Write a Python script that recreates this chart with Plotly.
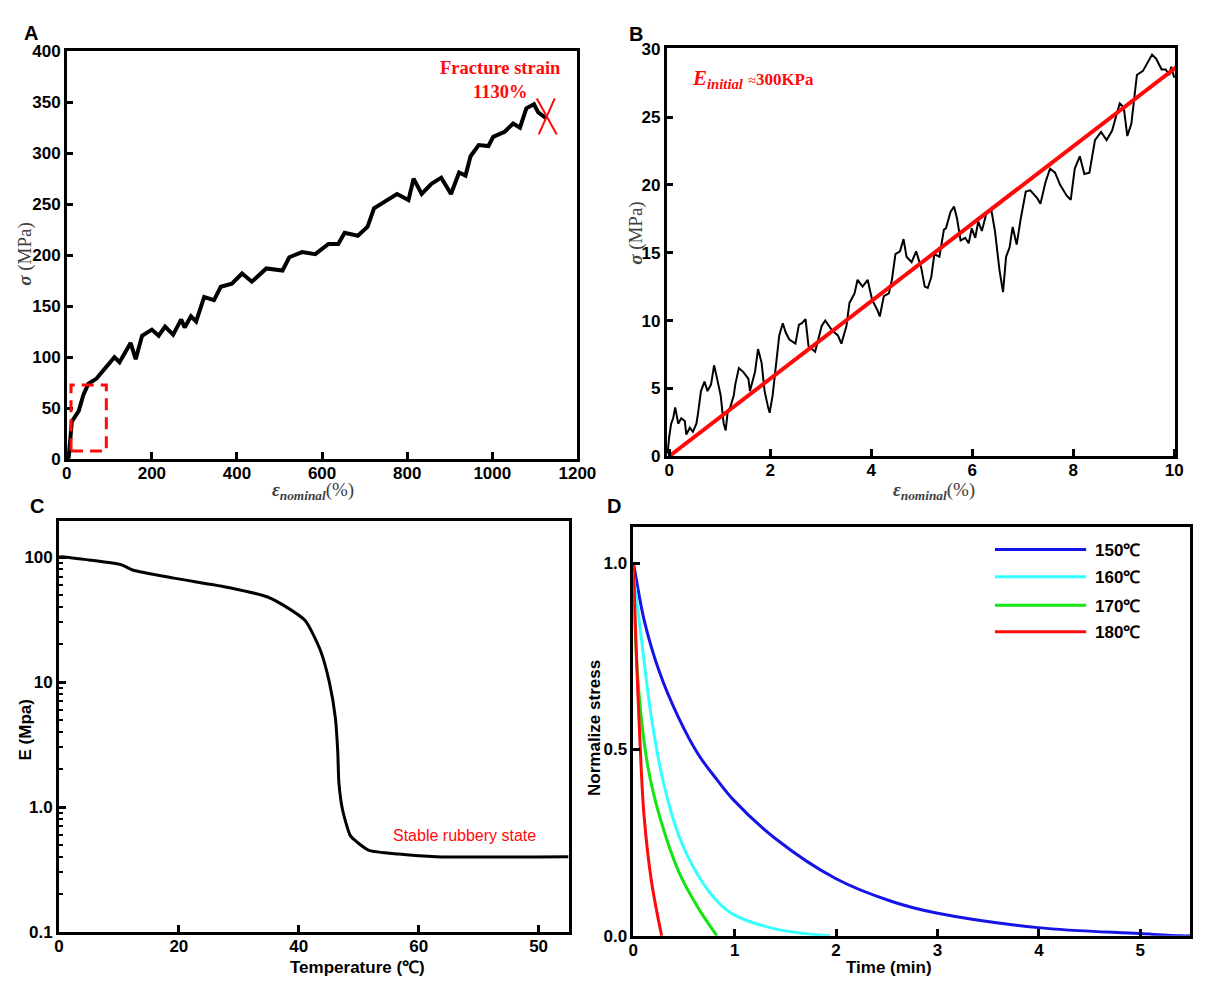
"""Four panel figure: tensile curve, initial modulus, DMA and stress relaxation."""
import plotly.graph_objects as go
from plotly.subplots import make_subplots

# ---- Panel A: full tensile curve ----
A_STRAIN = [0, 4.6, 12, 28, 39, 51, 70, 85, 93, 112, 124, 150, 162, 177, 200, 216, 231, 250,
            269, 277, 292, 304, 323, 346, 362, 388, 412, 435, 469, 507, 523, 553, 584, 615,
            638, 653, 684, 707, 722, 745, 776, 803, 815, 834, 857, 880, 903, 922, 937, 949,
            968, 991, 1002, 1029, 1049, 1065, 1080, 1098, 1108, 1127]
A_STRESS = [0, 2, 37, 47, 63, 74, 79, 86, 90, 100, 95, 114, 98, 121, 127, 121, 130, 122,
            137, 129, 140, 135, 159, 156, 169, 172, 182, 174, 187, 185, 198, 203, 201, 211,
            211, 222, 219, 228, 246, 252, 260, 254, 275, 260, 270, 276, 260, 281, 278, 297,
            308, 307, 316, 321, 329, 325, 344, 348, 340, 334]
FRACTURE_STRAIN = 1128
FRACTURE_STRESS = 336
ZOOM_BOX_STRAIN = [10, 93]
ZOOM_BOX_STRESS = [8, 72.8]

# ---- Panel B: initial region ----
B_STRAIN = [-0.03, 0, 0.04, 0.08, 0.12, 0.18, 0.24, 0.31, 0.34, 0.41, 0.47, 0.54, 0.57, 0.63,
            0.70, 0.76, 0.83, 0.89, 0.95, 1.02, 1.08, 1.12, 1.16, 1.21, 1.28, 1.31, 1.38, 1.47,
            1.57, 1.60, 1.70, 1.76, 1.83, 1.89, 1.96, 1.99, 2.05, 2.12, 2.18, 2.25, 2.31, 2.38,
            2.50, 2.57, 2.63, 2.70, 2.76, 2.89, 3.02, 3.09, 3.22, 3.34, 3.41, 3.51, 3.57, 3.67,
            3.73, 3.83, 3.93, 4.02, 4.12, 4.17, 4.25, 4.35, 4.41, 4.48, 4.57, 4.64, 4.70, 4.80,
            4.89, 4.99, 5.06, 5.12, 5.19, 5.25, 5.35, 5.44, 5.48, 5.57, 5.64, 5.70, 5.77, 5.86,
            5.93, 5.99, 6.06, 6.12, 6.19, 6.28, 6.38, 6.45, 6.54, 6.61, 6.67, 6.74, 6.80, 6.88,
            6.96, 7.06, 7.15, 7.29, 7.35, 7.45, 7.54, 7.64, 7.74, 7.87, 7.95, 8.03, 8.13, 8.22,
            8.32, 8.43, 8.55, 8.66, 8.77, 8.85, 8.92, 9.00, 9.07, 9.15, 9.19, 9.26, 9.38, 9.49,
            9.56, 9.64, 9.75, 9.83, 9.90, 9.94, 10.0]
B_STRESS = [0.2, 1.4, 2.4, 2.8, 3.6, 2.4, 2.8, 2.6, 1.6, 2.1, 1.8, 2.4, 3.1, 4.8,
            5.5, 4.8, 5.3, 6.7, 5.7, 4.5, 2.4, 1.9, 3.3, 3.6, 4.5, 5.3, 6.5, 6.2,
            5.7, 4.8, 6.2, 7.9, 6.9, 4.8, 3.6, 3.2, 4.5, 6.7, 8.9, 9.8, 9.1, 8.6,
            8.3, 9.7, 9.8, 10.1, 8.1, 7.7, 9.6, 10.0, 9.3, 8.9, 8.3, 9.6, 11.3, 12.0,
            13.0, 12.5, 13.0, 11.5, 10.8, 10.3, 11.8, 12.0, 13.0, 14.9, 15.1, 16.0, 14.7, 14.3,
            15.1, 13.9, 12.5, 12.4, 13.2, 14.9, 14.7, 16.7, 16.8, 18.0, 18.4, 17.5, 15.9, 16.1,
            15.7, 16.8, 16.1, 17.3, 16.6, 17.9, 18.1, 16.6, 13.7, 12.1, 14.7, 15.4, 16.9, 15.6,
            17.5, 19.5, 19.6, 19.0, 18.6, 20.2, 21.2, 20.9, 20.0, 19.2, 18.9, 21.2, 22.1, 20.8,
            20.9, 23.3, 23.9, 23.3, 24.0, 25.1, 26.0, 25.7, 23.6, 24.5, 26.0, 28.1, 28.4, 29.1,
            29.6, 29.3, 28.5, 28.5, 28.1, 28.7, 27.9]
B_FIT_STRAIN = [0, 10.05]
B_FIT_STRESS = [0, 28.7]

# ---- Panel C: modulus vs temperature ----
C_TEMP = [0, 0.4, 5, 10.4, 12.3, 19.2, 28.5, 34.8, 37.9, 41.1, 43.6, 45.1, 46.1, 46.5, 46.7,
          47.3, 48.6, 49.8, 51.7, 56.7, 62.9, 85]
C_MODULUS = [100, 101, 95, 87, 79, 68, 57, 48, 40, 31, 18, 10, 5.2, 2.8, 1.55,
             0.95, 0.59, 0.52, 0.45, 0.42, 0.40, 0.40]
C_X_TICKVALS = [0, 20, 40, 60, 80]
C_X_TICKTEXT = ["0", "20", "40", "60", "50"]
C_Y_TICKVALS = [0.1, 1, 10, 100]
C_Y_TICKTEXT = ["0.1", "1.0", "10", "100"]

# ---- Panel D: stress relaxation ----
D_LABELS = ["150℃", "160℃", "170℃", "180℃"]
D_COLORS = ["#1414e6", "#33ffff", "#14e614", "#ff0a0a"]
D_TIME_150 = [0, 0.01, 0.107, 0.26, 0.45, 0.64, 0.83, 0.99, 1.41, 2.0, 2.55, 2.99, 3.99, 4.99, 5.40, 5.49]
D_STRESS_150 = [1.0, 0.987, 0.847, 0.706, 0.583, 0.487, 0.417, 0.364, 0.259, 0.153, 0.092, 0.061, 0.022, 0.006, 0.0, 0.0]
D_TIME_160 = [0, 0.07, 0.18, 0.30, 0.45, 0.64, 0.83, 0.99, 1.41, 1.94]
D_STRESS_160 = [0.97, 0.82, 0.583, 0.408, 0.268, 0.162, 0.092, 0.057, 0.018, 0.0]
D_TIME_170 = [0, 0.05, 0.145, 0.26, 0.45, 0.64, 0.825]
D_STRESS_170 = [0.97, 0.671, 0.452, 0.32, 0.171, 0.075, 0.0]
D_TIME_180 = [0, 0.03, 0.07, 0.107, 0.18, 0.28]
D_STRESS_180 = [1.0, 0.759, 0.496, 0.32, 0.145, 0.0]

W, H = 1209, 988
TICK_FONT = dict(family="Liberation Sans, Arial", size=17, color="black", weight="bold")
SERIF = "Liberation Serif, DejaVu Serif"
SANS = "Liberation Sans, Arial"


def px(x):
    return x / W


def py(y):
    return 1 - y / H


fig = make_subplots(rows=2, cols=2)

fig.add_trace(go.Scatter(x=A_STRAIN, y=A_STRESS, mode="lines",
                         line=dict(color="black", width=4)), row=1, col=1)
fig.add_trace(go.Scatter(x=B_STRAIN, y=B_STRESS, mode="lines",
                         line=dict(color="black", width=2)), row=1, col=2)
fig.add_trace(go.Scatter(x=B_FIT_STRAIN, y=B_FIT_STRESS, mode="lines",
                         line=dict(color="#ff0a0a", width=4)), row=1, col=2)
fig.add_trace(go.Scatter(x=C_TEMP, y=C_MODULUS, mode="lines", line_shape="spline",
                         line=dict(color="black", width=3, smoothing=0.6)), row=2, col=1)
d_series = [(D_TIME_150, D_STRESS_150), (D_TIME_160, D_STRESS_160),
            (D_TIME_170, D_STRESS_170), (D_TIME_180, D_STRESS_180)]
for (t, s), name, color in zip(d_series, D_LABELS, D_COLORS):
    fig.add_trace(go.Scatter(x=t, y=s, mode="lines", name=name, line_shape="spline",
                             line=dict(color=color, width=3)), row=2, col=2)

axis_style = dict(showline=True, linecolor="black", linewidth=2.5, mirror=True,
                  ticks="inside", ticklen=7, tickwidth=2.5, tickcolor="black",
                  showgrid=False, zeroline=False, tickfont=TICK_FONT)
fig.update_xaxes(ticklabelstandoff=-3, **axis_style)
fig.update_yaxes(**axis_style)

# panel A
fig.update_xaxes(domain=[px(63), px(584)], range=[0, 1200], tickvals=list(range(0, 1201, 200)),
                 row=1, col=1)
fig.update_yaxes(domain=[py(459), py(43)], range=[0, 400], tickvals=list(range(0, 401, 50)),
                 row=1, col=1)
# panel B
fig.update_xaxes(domain=[px(675), px(1194)], range=[-0.05, 10.02], tickvals=[0, 2, 4, 6, 8, 10],
                 row=1, col=2)
fig.update_yaxes(domain=[py(456), py(40)], range=[0, 30.07], tickvals=[0, 5, 10, 15, 20, 25, 30],
                 row=1, col=2)
# panel C
minor_vals = [m * 10 ** e for e in (-1, 0, 1, 2) for m in range(2, 10) if m * 10 ** e < 195]
fig.update_xaxes(domain=[px(55), px(575)], range=[0, 85], tickvals=C_X_TICKVALS,
                 ticktext=C_X_TICKTEXT, row=2, col=1)
fig.update_yaxes(domain=[py(941), py(522)], type="log", range=[-1, 2.29],
                 tickvals=C_Y_TICKVALS, ticktext=C_Y_TICKTEXT,
                 minor=dict(ticks="inside", ticklen=4, tickwidth=2, tickcolor="black",
                            tickvals=minor_vals),
                 row=2, col=1)
# panel D
fig.update_xaxes(domain=[px(641), 1.0], range=[0, 5.49], tickvals=[0, 1, 2, 3, 4, 5],
                 row=2, col=2)
fig.update_yaxes(domain=[py(945), py(528)], range=[0, 1.097], tickvals=[0, 0.5, 1.0],
                 tickformat=".1f", row=2, col=2)

shapes = []
# fracture cross in A
for x0, y0, x1, y1 in [(-10, 18, 10, -18), (8, 18, -8, -18)]:
    shapes.append(dict(type="line", xref="x", yref="y", xsizemode="pixel", ysizemode="pixel",
                       xanchor=FRACTURE_STRAIN, yanchor=FRACTURE_STRESS,
                       x0=x0, y0=y0, x1=x1, y1=y1, line=dict(color="#ff0a0a", width=2)))
# zoom region box in A
shapes.append(dict(type="rect", xref="x", yref="y",
                   x0=ZOOM_BOX_STRAIN[0], x1=ZOOM_BOX_STRAIN[1],
                   y0=ZOOM_BOX_STRESS[0], y1=ZOOM_BOX_STRESS[1],
                   line=dict(color="#ff0a0a", width=3, dash="12px,7px")))

annotations = []
# manual legend for D
legend_rows = [551, 579, 608, 635]
for label, color, yrow in zip(D_LABELS, D_COLORS, legend_rows):
    shapes.append(dict(type="line", xref="paper", yref="paper", x0=px(1010), x1=px(1103),
                       y0=py(yrow), y1=py(yrow), line=dict(color=color, width=3)))
    annotations.append(dict(x=px(1110), y=py(yrow + 1), xref="paper", yref="paper",
                            text=label, showarrow=False, xanchor="left", yanchor="middle",
                            font=dict(family=SANS, size=17, color="black", weight="bold")))

# panel letters
for letter, x, y in [("A", 27, 24), ("B", 644, 25), ("C", 33, 507), ("D", 621, 507)]:
    annotations.append(dict(x=px(x), y=py(y), xref="paper", yref="paper", text=letter,
                            showarrow=False, xanchor="center", yanchor="middle",
                            font=dict(family=SANS, size=20, color="black", weight="bold")))

eps_title = "<b><i>ε</i></b><sub><b><i>nominal</i></b></sub>(%)"
sigma_title = "<b><i>σ</i></b> (MPa)"
title_font = dict(family=SERIF, size=19, color="#404040")
sans_title = dict(family=SANS, size=17, color="black", weight="bold")
for text, x, y, angle, font in [
        (sigma_title, 21, 250, -90, title_font),
        (eps_title, 314, 491, 0, title_font),
        (sigma_title, 643, 228, -90, title_font),
        (eps_title, 948, 491, 0, title_font),
        ("E (Mpa)", 21, 735, -90, sans_title),
        ("Temperature (℃)", 360, 977, 0, sans_title),
        ("Normalize stress", 602, 733, -90, sans_title),
        ("Time (min)", 902, 977, 0, sans_title)]:
    annotations.append(dict(x=px(x), y=py(y), xref="paper", yref="paper", text=text,
                            showarrow=False, textangle=angle, xanchor="center",
                            yanchor="middle", font=font))

annotations.append(dict(x=px(506), y=py(72), xref="paper", yref="paper",
                        text="<b>Fracture strain</b><br><b>1130%</b>", showarrow=False,
                        xanchor="center", yanchor="middle", align="center",
                        font=dict(family=SERIF, size=18.5, color="#ff0a0a")))
annotations.append(dict(x=px(699), y=py(71), xref="paper", yref="paper",
                        text=("<b><i>E</i></b><sub><b><i>initial</i></b></sub>"
                              " <span style='font-size:14px'>≈</span>"
                              "<span style='font-size:17px'><b>300KPa</b></span>"),
                        showarrow=False, xanchor="left", yanchor="middle",
                        font=dict(family=SERIF, size=21, color="#ff0a0a")))
annotations.append(dict(x=px(469), y=py(843), xref="paper", yref="paper",
                        text="Stable rubbery state", showarrow=False,
                        xanchor="center", yanchor="middle",
                        font=dict(family=SANS, size=16, color="#ff0a0a")))

fig.update_layout(
    width=W, height=H,
    margin=dict(l=0, r=0, t=0, b=0),
    plot_bgcolor="white", paper_bgcolor="white",
    showlegend=False,
    shapes=shapes,
    annotations=annotations,
)

fig.write_html("out.html", config={"displayModeBar": False},
               post_script="document.body.style.margin='0px';document.body.style.overflow='hidden';")
